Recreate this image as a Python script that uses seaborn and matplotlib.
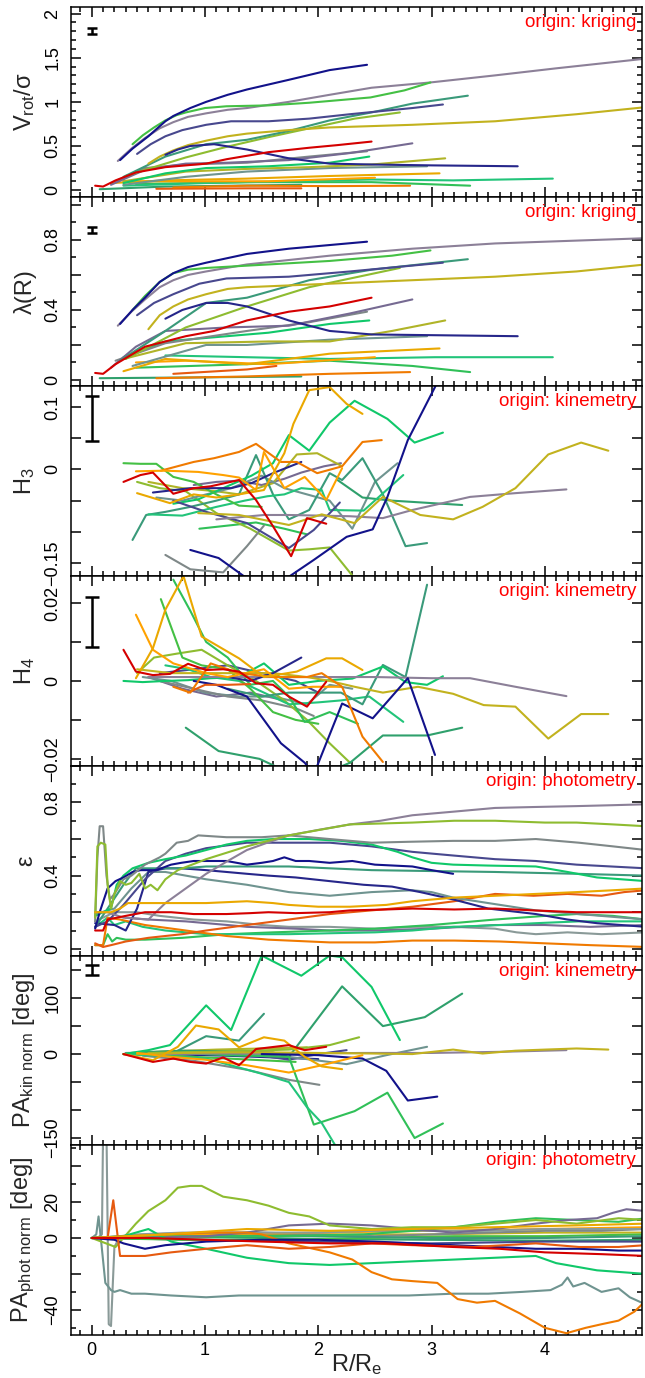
import numpy as np
import pandas as pd
import matplotlib
matplotlib.use("Agg")
import matplotlib.pyplot as plt
from matplotlib.ticker import MultipleLocator, FuncFormatter
import seaborn as sns

# ---------------------------------------------------------------- colours
GALAXY_COLORS = {
    "navy": "#12128a", "navy2": "#26268a", "indigo": "#48488e",
    "mauve": "#8c8098", "mauve2": "#766a92", "grey": "#7f8888",
    "ash": "#8a9a98", "greyteal": "#6f9490", "teal": "#3a9a7a",
    "seagreen": "#2fa06c", "green": "#44c044", "spring": "#30c058",
    "mint": "#10c86a", "mint2": "#22c47a", "leaf": "#8ebc30",
    "olive": "#c2b21e", "olive2": "#b0b428", "amber": "#eaa800",
    "orange": "#ffa200", "darkorange": "#f07a00", "burnt": "#e65a10",
    "red": "#d40000",
}

# ---------------------------------------------------------------- V_rot / sigma (kriging)
VROT_SIGMA = {
    "seagreen": ([0.07, 0.65, 1.85], [0.01, 0.04, 0.06]),
    "burnt": ([0.57, 1.37, 1.85], [0.015, 0.02, 0.02]),
    "darkorange": ([0.72, 1.37, 2.1, 2.81], [0.03, 0.05, 0.045, 0.05]),
    "spring": ([0.39, 1.37, 2.47, 3.34], [0.07, 0.09, 0.09, 0.05]),
    "mint2": ([0.28, 1.01, 1.74, 2.47, 3.19, 4.07], [0.05, 0.08, 0.10, 0.12, 0.11, 0.13]),
    "orange": ([0.28, 0.83, 1.56, 2.5], [0.10, 0.10, 0.10, 0.14]),
    "amber": ([0.17, 0.65, 1.37, 2.1, 3.07], [0.08, 0.11, 0.13, 0.16, 0.19]),
    "greyteal": ([0.28, 0.83, 1.37, 2.1, 2.96], [0.06, 0.15, 0.21, 0.25, 0.27]),
    "olive2": ([0.28, 0.83, 1.37, 1.92, 2.47, 3.12], [0.10, 0.21, 0.24, 0.26, 0.29, 0.36]),
    "mint": ([0.28, 0.65, 1.01, 1.56, 2.1, 2.45], [0.08, 0.19, 0.25, 0.27, 0.31, 0.38]),
    "grey": ([0.21, 0.47, 0.83, 1.37, 1.92, 2.43], [0.10, 0.25, 0.29, 0.31, 0.38, 0.44]),
    "mauve2": ([0.17, 0.47, 0.83, 1.19, 1.74, 2.28, 2.83], [0.06, 0.23, 0.30, 0.31, 0.34, 0.42, 0.53]),
    "leaf": ([0.3, 0.47, 0.83, 1.19, 1.56, 1.92, 2.32, 2.72], [0.16, 0.23, 0.37, 0.49, 0.60, 0.70, 0.81, 0.88]),
    "teal": ([0.28, 0.65, 1.01, 1.37, 1.74, 2.1, 2.47, 2.83, 3.32], [0.15, 0.38, 0.52, 0.57, 0.67, 0.79, 0.88, 0.98, 1.07]),
    "olive": ([0.5, 0.6, 0.72, 0.85, 1.01, 1.2, 1.37, 1.74, 2.1, 2.83, 3.56, 4.28, 4.89], [0.30, 0.38, 0.45, 0.51, 0.56, 0.61, 0.64, 0.68, 0.71, 0.74, 0.78, 0.86, 0.94]),
    "navy2": ([0.65, 0.76, 0.87, 1.08, 1.37, 1.74, 2.1, 2.47, 3.01, 3.76], [0.40, 0.46, 0.50, 0.52, 0.46, 0.36, 0.30, 0.29, 0.28, 0.27]),
    "indigo": ([0.4, 0.52, 0.65, 0.8, 1.01, 1.23, 1.56, 1.92, 2.28, 2.83, 3.1], [0.41, 0.52, 0.61, 0.68, 0.74, 0.78, 0.78, 0.81, 0.86, 0.93, 0.97]),
    "mauve": ([0.23, 0.35, 0.47, 0.6, 0.72, 0.85, 1.01, 1.2, 1.37, 1.74, 2.1, 2.47, 2.99, 3.56, 4.1, 4.89], [0.33, 0.47, 0.59, 0.70, 0.77, 0.83, 0.87, 0.91, 0.93, 1.0, 1.08, 1.16, 1.22, 1.30, 1.38, 1.49]),
    "green": ([0.36, 0.45, 0.55, 0.65, 0.75, 0.83, 1.0, 1.19, 1.56, 1.92, 2.46, 2.76, 2.99], [0.52, 0.62, 0.71, 0.79, 0.85, 0.88, 0.93, 0.95, 0.96, 0.99, 1.05, 1.13, 1.22]),
    "navy": ([0.25, 0.36, 0.5, 0.57, 0.65, 0.72, 0.87, 1.01, 1.2, 1.37, 1.74, 2.1, 2.43], [0.34, 0.47, 0.61, 0.69, 0.78, 0.84, 0.93, 1.0, 1.08, 1.14, 1.25, 1.36, 1.42]),
    "red": ([0.03, 0.1, 0.21, 0.39, 0.65, 1.01, 1.19, 1.56, 1.92, 2.17, 2.47], [0.05, 0.04, 0.11, 0.20, 0.26, 0.30, 0.35, 0.43, 0.48, 0.51, 0.55]),
}

# ---------------------------------------------------------------- lambda(R) (kriging)
LAMBDA_R = {
    "seagreen": ([0.07, 1.01, 1.85], [0.01, 0.015, 0.02]),
    "darkorange": ([0.57, 1.37, 2.1, 2.81], [0.01, 0.02, 0.035, 0.045]),
    "burnt": ([0.72, 1.37, 1.63], [0.035, 0.06, 0.08]),
    "spring": ([0.39, 1.37, 2.1, 2.83, 3.34], [0.07, 0.09, 0.11, 0.08, 0.045]),
    "mint2": ([0.65, 1.37, 2.1, 3.03, 4.07], [0.14, 0.13, 0.12, 0.13, 0.13]),
    "orange": ([0.39, 0.83, 1.56, 2.5], [0.10, 0.11, 0.09, 0.13]),
    "amber": ([0.28, 0.65, 1.37, 2.1, 3.07], [0.05, 0.12, 0.09, 0.15, 0.18]),
    "greyteal": ([0.36, 1.01, 1.37, 2.1, 2.96], [0.08, 0.20, 0.20, 0.23, 0.25]),
    "olive2": ([0.28, 0.83, 1.56, 2.1, 2.65, 3.12], [0.12, 0.21, 0.22, 0.22, 0.28, 0.34]),
    "mint": ([0.28, 0.65, 1.01, 1.56, 2.1, 2.45], [0.13, 0.22, 0.24, 0.27, 0.32, 0.34]),
    "grey": ([0.21, 0.65, 1.37, 1.92, 2.43], [0.11, 0.21, 0.28, 0.33, 0.39]),
    "mauve2": ([0.17, 0.39, 0.65, 1.19, 1.74, 2.28, 2.83], [0.07, 0.19, 0.28, 0.30, 0.31, 0.38, 0.46]),
    "leaf": ([0.3, 0.83, 1.37, 1.92, 2.72], [0.12, 0.30, 0.42, 0.53, 0.64]),
    "teal": ([0.25, 0.65, 1.01, 1.37, 1.92, 2.47, 3.32], [0.11, 0.28, 0.44, 0.47, 0.57, 0.63, 0.69]),
    "olive": ([0.5, 0.6, 0.72, 0.85, 1.01, 1.2, 1.37, 2.1, 2.83, 3.56, 4.28, 4.89], [0.29, 0.37, 0.42, 0.46, 0.49, 0.52, 0.53, 0.55, 0.57, 0.59, 0.62, 0.66]),
    "navy2": ([0.65, 0.8, 1.01, 1.2, 1.37, 1.74, 2.1, 2.47, 3.76], [0.35, 0.40, 0.44, 0.44, 0.42, 0.34, 0.28, 0.26, 0.25]),
    "indigo": ([0.4, 0.55, 0.72, 0.95, 1.19, 1.74, 2.28, 3.1], [0.37, 0.44, 0.49, 0.55, 0.58, 0.59, 0.62, 0.67]),
    "mauve": ([0.23, 0.35, 0.47, 0.6, 0.72, 0.85, 1.01, 1.37, 2.1, 2.83, 3.56, 4.89], [0.31, 0.39, 0.46, 0.53, 0.57, 0.60, 0.62, 0.66, 0.71, 0.75, 0.78, 0.81]),
    "green": ([0.36, 0.47, 0.6, 0.72, 0.85, 1.01, 1.56, 2.1, 2.65, 2.99], [0.40, 0.48, 0.56, 0.61, 0.63, 0.64, 0.66, 0.68, 0.71, 0.74]),
    "navy": ([0.25, 0.36, 0.47, 0.6, 0.72, 0.85, 1.01, 1.37, 1.74, 2.43], [0.32, 0.40, 0.47, 0.56, 0.61, 0.645, 0.67, 0.72, 0.75, 0.79]),
    "red": ([0.03, 0.1, 0.21, 0.47, 0.83, 1.08, 1.37, 1.74, 2.1, 2.47], [0.04, 0.035, 0.09, 0.19, 0.25, 0.28, 0.34, 0.39, 0.42, 0.47]),
}

# ---------------------------------------------------------------- H3 (kinemetry)
H3 = {
    "mauve2": ([0.9, 1.1, 1.3, 1.5, 1.7, 1.85, 2.05, 2.2], [-0.025, -0.020, -0.018, -0.025, -0.015, -0.005, 0.005, 0.010]),
    "spring": ([0.95, 1.2, 1.45, 1.7, 1.9], [-0.095, -0.090, -0.085, -0.095, -0.104]),
    "olive2": ([0.5, 0.8, 1.1, 1.3, 1.6, 1.81, 1.99, 2.2], [-0.020, -0.030, -0.035, -0.040, -0.022, 0.024, 0.026, 0.006]),
    "leaf": ([0.4, 0.6, 0.83, 1.1, 1.4, 1.74, 1.92, 2.1, 2.3], [-0.020, -0.030, -0.035, -0.070, -0.095, -0.130, -0.128, -0.125, -0.170]),
    "greyteal": ([0.57, 0.8, 1.01, 1.23, 1.5, 1.7, 1.9, 2.1, 2.3, 2.5, 2.7], [-0.045, -0.050, -0.040, -0.030, -0.010, -0.030, -0.040, -0.050, -0.095, -0.020, 0.010]),
    "grey": ([0.65, 0.87, 1.16, 1.37, 1.52], [-0.137, -0.160, -0.165, -0.123, -0.090]),
    "seagreen": ([2.17, 2.39, 2.65, 3.27], [-0.017, -0.045, -0.050, -0.057]),
    "teal": ([0.36, 0.48, 0.65, 0.87, 1.1, 1.3, 1.45, 1.6, 1.74, 1.92, 2.1, 2.21, 2.39, 2.57, 2.77, 2.96], [-0.113, -0.073, -0.068, -0.060, -0.050, -0.040, 0.023, -0.040, -0.080, -0.065, -0.006, -0.017, 0.018, -0.040, -0.123, -0.118]),
    "mint2": ([0.5, 0.8, 1.1, 1.35, 1.55, 1.7, 1.85, 2.03, 2.1, 2.4, 2.75], [-0.072, -0.074, -0.060, -0.050, -0.043, -0.040, -0.030, -0.033, -0.065, -0.066, -0.009]),
    "mint": ([0.72, 0.94, 1.16, 1.41, 1.6, 1.74, 1.92, 2.1, 2.32, 2.61, 2.85, 3.1], [-0.055, -0.048, -0.030, -0.010, 0.010, 0.055, 0.030, 0.075, 0.110, 0.081, 0.043, 0.059]),
    "green": ([0.28, 0.43, 0.57, 0.72, 0.9, 1.1, 1.3, 1.5], [0.010, 0.009, 0.009, -0.012, -0.020, -0.040, -0.058, -0.060]),
    "indigo": ([0.72, 1.01, 1.37, 1.74, 1.96, 2.19], [-0.050, -0.068, -0.086, -0.126, -0.097, -0.053]),
    "mauve": ([1.1, 1.52, 1.74, 2.28, 2.57, 2.83, 3.34, 3.74, 4.19], [-0.080, -0.073, -0.073, -0.075, -0.078, -0.065, -0.044, -0.038, -0.032]),
    "olive": ([0.94, 1.3, 1.74, 2.03, 2.32, 2.57, 2.9, 3.19, 3.45, 3.74, 4.03, 4.32, 4.56], [-0.070, -0.073, -0.089, -0.072, -0.086, -0.044, -0.073, -0.080, -0.060, -0.030, 0.024, 0.043, 0.030]),
    "navy2": ([0.54, 0.87, 1.23, 1.41, 1.6, 1.85], [-0.037, -0.030, -0.030, -0.022, -0.006, 0.012]),
    "navy": ([0.87, 1.12, 1.35, 1.6, 1.74, 1.96, 2.25, 2.48, 2.61, 2.79, 3.03, 3.12], [-0.129, -0.142, -0.172, -0.195, -0.172, -0.145, -0.108, -0.096, -0.044, 0.047, 0.132, 0.170]),
    "darkorange": ([0.61, 0.9, 1.08, 1.3, 1.45, 1.67, 1.81, 1.99, 2.21, 2.39, 2.56], [-0.002, 0.012, 0.018, 0.028, 0.041, 0.012, 0.012, -0.006, 0.005, 0.044, 0.047]),
    "orange": ([0.39, 0.65, 0.94, 1.16, 1.3, 1.45, 1.52, 1.7, 1.88, 2.07, 2.21], [-0.003, -0.002, -0.004, -0.009, -0.013, -0.033, 0.028, -0.030, -0.012, -0.049, 0.002]),
    "amber": ([0.4, 0.69, 0.9, 1.1, 1.3, 1.52, 1.7, 1.78, 1.92, 2.1, 2.25, 2.39], [-0.038, -0.054, -0.040, -0.045, -0.040, -0.033, 0.026, 0.073, 0.127, 0.132, 0.105, 0.089]),
    "red": ([0.28, 0.43, 0.54, 0.72, 0.9, 1.05, 1.3, 1.45, 1.6, 1.76, 1.9, 2.07], [-0.020, -0.009, -0.005, -0.039, -0.030, -0.027, -0.017, -0.049, -0.091, -0.139, -0.078, -0.087]),
}

# ---------------------------------------------------------------- H4 (kinemetry)
H4 = {
    "mauve2": ([0.5, 0.8, 1.1, 1.4, 1.7], [0.001, -0.002, -0.004, -0.003, -0.005]),
    "indigo": ([0.6, 0.9, 1.2, 1.5, 1.8, 2.0], [0.002, 0.003, 0.004, 0.002, 0.0, -0.003]),
    "greyteal": ([0.45, 0.7, 1.0, 1.3, 1.6, 1.9, 2.1, 2.3], [0.001, 0.0, -0.003, -0.004, -0.004, -0.006, -0.001, -0.002]),
    "grey": ([0.6, 0.9, 1.2, 1.5, 1.8, 1.96], [0.0, -0.002, -0.004, -0.005, -0.007, -0.009]),
    "leaf": ([0.4, 0.55, 0.75, 0.97, 1.2, 1.45, 1.7, 1.9, 2.1, 2.28], [0.002, 0.006, 0.007, 0.008, 0.004, 0.0, -0.005, -0.010, -0.016, -0.021]),
    "mint2": ([0.65, 0.85, 1.05, 1.3, 1.52, 1.74, 2.0, 2.2, 2.45, 2.75], [0.004, 0.003, 0.001, 0.0, -0.003, -0.006, -0.0055, -0.005, -0.004, -0.0105]),
    "seagreen": ([0.83, 1.12, 1.48, 1.7, 1.85, 2.03, 2.28, 2.57, 2.96, 3.27], [-0.012, -0.018, -0.020, -0.023, -0.025, -0.024, -0.021, -0.014, -0.014, -0.012]),
    "teal": ([1.2, 1.5, 1.74, 1.96, 2.2, 2.39, 2.57, 2.77, 2.96], [-0.002, -0.004, -0.003, -0.003, -0.003, -0.006, 0.0041, 0.001, 0.0247]),
    "mint": ([0.28, 0.45, 0.65, 0.85, 1.05, 1.3, 1.52, 1.74, 2.0, 2.3, 2.57, 2.77, 2.96, 3.1], [0.0, -0.0003, 0.0, 0.0002, 0.0007, 0.001, 0.0045, -0.001, 0.0, 0.0006, 0.0037, -0.0003, -0.001, 0.0012]),
    "green": ([0.61, 0.8, 0.97, 1.2, 1.4, 1.6, 1.8, 2.0], [0.021, 0.006, 0.004, 0.003, -0.002, -0.008, -0.010, -0.011]),
    "spring": ([0.72, 0.87, 1.01, 1.2, 1.4, 1.6, 1.74, 1.88, 2.1, 2.35], [0.026, 0.018, 0.010, 0.006, -0.001, 0.0, -0.004, -0.0105, -0.008, -0.011]),
    "mauve": ([0.5, 1.0, 1.5, 2.0, 2.5, 3.0, 3.34, 3.74, 4.19], [0.001, 0.001, 0.001, 0.001, 0.001, 0.0007, 0.0007, -0.0015, -0.0039]),
    "olive": ([0.4, 0.7, 1.0, 1.3, 1.6, 1.9, 2.1, 2.32, 2.57, 2.88, 3.19, 3.46, 3.74, 4.03, 4.32, 4.56], [0.003, 0.002, 0.002, 0.002, 0.002, 0.001, 0.0, -0.0015, -0.003, -0.0015, -0.0033, -0.0062, -0.0066, -0.0148, -0.0085, -0.0085]),
    "navy2": ([1.2, 1.4, 1.6, 1.85], [0.001, 0.0, 0.002, 0.006]),
    "navy": ([0.9, 1.1, 1.37, 1.67, 1.88, 1.96, 2.21, 2.48, 2.79, 3.03], [0.0, -0.001, -0.004, -0.016, -0.021, -0.024, -0.0058, -0.0096, 0.0007, -0.019]),
    "burnt": ([0.85, 1.0, 1.2, 1.4], [-0.003, -0.001, -0.001, -0.0008]),
    "orange": ([0.39, 0.54, 0.72, 1.01, 1.2, 1.52, 1.74, 1.95, 2.2], [0.017, 0.008, 0.0045, 0.002, 0.001, 0.003, -0.002, -0.0015, -0.0015]),
    "darkorange": ([0.72, 0.87, 1.05, 1.3, 1.6, 1.9, 2.03, 2.21, 2.39, 2.57], [-0.0015, -0.003, 0.0045, 0.002, 0.001, 0.001, 0.002, -0.0015, -0.0143, -0.0208]),
    "amber": ([0.39, 0.54, 0.65, 0.81, 0.97, 1.3, 1.52, 1.81, 2.07, 2.21, 2.39], [0.0007, 0.0084, 0.0183, 0.0269, 0.0114, 0.0058, 0.0010, 0.0024, 0.0058, 0.0058, 0.0028]),
    "red": ([0.28, 0.39, 0.54, 0.69, 0.85, 1.01, 1.16, 1.3, 1.45, 1.6, 1.74, 1.9, 2.07], [0.008, 0.0024, 0.0015, 0.0018, 0.0044, 0.0028, 0.003, 0.0024, -0.0006, -0.001, -0.004, -0.0066, -0.0002]),
}

# ---------------------------------------------------------------- ellipticity (photometry)
ELLIPTICITY = {
    "ash": ([0.03, 0.2, 0.4, 0.6, 0.9, 1.19, 1.5, 1.74, 2.1, 2.5, 2.83, 3.2, 3.56, 3.75, 3.92, 4.2, 4.5, 4.89], [0.15, 0.20, 0.20, 0.18, 0.16, 0.15, 0.13, 0.12, 0.12, 0.11, 0.12, 0.12, 0.11, 0.09, 0.08, 0.09, 0.08, 0.09]),
    "mauve2": ([0.3, 0.5, 0.83, 1.2, 1.37, 1.8, 2.1, 2.5, 3.0, 3.56, 4.0, 4.4, 4.89], [0.17, 0.16, 0.15, 0.13, 0.12, 0.11, 0.10, 0.10, 0.11, 0.13, 0.13, 0.12, 0.13]),
    "spring": ([0.03, 0.1, 0.14, 0.18, 0.22, 0.3, 0.47, 0.8, 1.2, 1.6, 2.1, 2.5, 3.0, 3.56, 4.0, 4.28, 4.6, 4.89], [0.02, 0.02, 0.08, 0.04, 0.06, 0.05, 0.05, 0.06, 0.08, 0.09, 0.10, 0.11, 0.13, 0.16, 0.18, 0.19, 0.18, 0.16]),
    "mint2": ([0.03, 0.14, 0.2, 0.3, 0.45, 0.65, 1.01, 1.4, 1.74, 2.1, 2.5, 2.83, 3.19, 3.6, 3.92, 4.3, 4.6, 4.89], [0.12, 0.17, 0.13, 0.15, 0.12, 0.10, 0.08, 0.08, 0.08, 0.085, 0.09, 0.10, 0.12, 0.13, 0.14, 0.15, 0.15, 0.15]),
    "darkorange": ([0.03, 0.1, 0.14, 0.25, 0.47, 0.83, 1.19, 1.56, 2.1, 2.5, 2.83, 3.2, 3.6, 4.0, 4.4, 4.89], [0.02, 0.02, 0.17, 0.16, 0.13, 0.10, 0.07, 0.05, 0.035, 0.035, 0.045, 0.045, 0.04, 0.03, 0.02, 0.01]),
    "burnt": ([0.03, 0.1, 0.17, 0.3, 0.5, 0.8, 1.01, 1.37, 1.74, 2.1, 2.47, 2.83, 3.2, 3.56, 3.9, 4.2, 4.5, 4.7, 4.89], [0.03, 0.01, 0.02, 0.04, 0.06, 0.08, 0.10, 0.13, 0.16, 0.19, 0.21, 0.23, 0.26, 0.30, 0.29, 0.30, 0.29, 0.31, 0.32]),
    "greyteal": ([0.03, 0.2, 0.35, 0.5, 0.65, 0.83, 1.01, 1.37, 1.74, 2.1, 2.47, 2.83, 3.0, 3.19, 3.5, 3.92, 4.3, 4.89], [0.19, 0.22, 0.33, 0.42, 0.42, 0.40, 0.38, 0.35, 0.31, 0.29, 0.31, 0.32, 0.31, 0.28, 0.25, 0.21, 0.19, 0.16]),
    "navy2": ([0.03, 0.2, 0.3, 0.4, 0.5, 0.65, 0.79, 1.01, 1.37, 1.56, 1.8, 2.1, 2.4, 2.65, 2.9, 3.19, 3.5, 3.92, 4.2, 4.46, 4.89], [0.14, 0.13, 0.10, 0.22, 0.42, 0.44, 0.44, 0.43, 0.41, 0.40, 0.39, 0.37, 0.35, 0.34, 0.31, 0.27, 0.22, 0.19, 0.16, 0.14, 0.12]),
    "teal": ([0.03, 0.14, 0.28, 0.39, 0.6, 0.8, 1.01, 1.37, 1.74, 2.1, 2.47, 3.0, 3.56, 4.28, 4.89], [0.12, 0.22, 0.35, 0.44, 0.44, 0.44, 0.45, 0.45, 0.45, 0.44, 0.43, 0.425, 0.42, 0.41, 0.40]),
    "indigo": ([0.03, 0.14, 0.28, 0.47, 0.65, 0.83, 1.01, 1.37, 1.74, 2.1, 2.47, 2.83, 3.19, 3.56, 3.92, 4.28, 4.89], [0.12, 0.15, 0.24, 0.38, 0.48, 0.52, 0.55, 0.58, 0.58, 0.58, 0.56, 0.53, 0.51, 0.49, 0.48, 0.46, 0.44]),
    "mint": ([0.03, 0.1, 0.17, 0.22, 0.28, 0.36, 0.5, 0.65, 0.83, 1.01, 1.19, 1.37, 1.6, 1.92, 2.2, 2.47, 2.7, 2.83, 3.0, 3.19, 3.5, 3.92, 4.2, 4.46, 4.89], [0.18, 0.20, 0.22, 0.35, 0.40, 0.44, 0.47, 0.49, 0.51, 0.54, 0.57, 0.59, 0.60, 0.60, 0.59, 0.57, 0.53, 0.50, 0.47, 0.46, 0.455, 0.45, 0.42, 0.39, 0.37]),
    "navy": ([0.03, 0.07, 0.14, 0.21, 0.28, 0.36, 0.43, 0.57, 0.7, 0.79, 0.9, 1.01, 1.19, 1.37, 1.5, 1.6, 1.7, 1.8, 1.92, 2.1, 2.3, 2.5, 2.83, 3.0, 3.19], [0.11, 0.20, 0.33, 0.37, 0.39, 0.42, 0.43, 0.43, 0.46, 0.47, 0.48, 0.48, 0.48, 0.46, 0.47, 0.48, 0.50, 0.48, 0.48, 0.47, 0.48, 0.46, 0.45, 0.43, 0.41]),
    "grey": ([0.03, 0.05, 0.07, 0.1, 0.13, 0.16, 0.2, 0.28, 0.35, 0.47, 0.6, 0.65, 0.75, 0.85, 0.94, 1.19, 1.5, 1.74, 2.1, 2.47, 2.8, 3.19, 3.56, 3.92, 4.3, 4.6, 4.89], [0.15, 0.50, 0.67, 0.67, 0.40, 0.27, 0.30, 0.38, 0.40, 0.46, 0.50, 0.52, 0.58, 0.59, 0.62, 0.61, 0.61, 0.62, 0.60, 0.58, 0.585, 0.59, 0.59, 0.60, 0.58, 0.56, 0.54]),
    "mauve": ([0.03, 0.14, 0.28, 0.5, 0.65, 0.83, 1.01, 1.2, 1.37, 1.55, 1.74, 2.0, 2.28, 2.55, 2.83, 3.2, 3.56, 3.9, 4.28, 4.6, 4.89], [0.20, 0.20, 0.17, 0.16, 0.25, 0.33, 0.41, 0.48, 0.54, 0.58, 0.62, 0.65, 0.68, 0.70, 0.73, 0.75, 0.77, 0.775, 0.78, 0.785, 0.79]),
    "leaf": ([0.03, 0.05, 0.08, 0.12, 0.14, 0.17, 0.2, 0.25, 0.3, 0.35, 0.42, 0.47, 0.52, 0.58, 0.65, 0.76, 1.01, 1.37, 1.74, 2.28, 2.83, 3.2, 3.56, 4.0, 4.28, 4.6, 4.89], [0.17, 0.56, 0.58, 0.57, 0.35, 0.22, 0.30, 0.37, 0.35, 0.36, 0.41, 0.33, 0.35, 0.32, 0.38, 0.43, 0.49, 0.56, 0.62, 0.68, 0.69, 0.70, 0.70, 0.69, 0.69, 0.68, 0.67]),
    "amber": ([0.03, 0.17, 0.25, 0.32, 0.6, 1.01, 1.37, 1.6, 1.74, 2.0, 2.28, 2.6, 2.83, 3.2, 3.56, 3.92, 4.28, 4.6, 4.89], [0.20, 0.20, 0.22, 0.25, 0.25, 0.25, 0.26, 0.25, 0.24, 0.23, 0.23, 0.24, 0.26, 0.28, 0.29, 0.30, 0.31, 0.32, 0.33]),
    "red": ([0.03, 0.1, 0.14, 0.3, 0.47, 0.7, 0.9, 1.19, 1.4, 1.56, 1.8, 2.1, 2.28, 2.6, 2.83, 3.2, 3.56, 3.9, 4.28, 4.6, 4.89], [0.10, 0.10, 0.16, 0.18, 0.20, 0.20, 0.19, 0.19, 0.195, 0.20, 0.195, 0.20, 0.21, 0.215, 0.22, 0.215, 0.22, 0.21, 0.20, 0.20, 0.20]),
}

# ---------------------------------------------------------------- kinematic PA (kinemetry)
PA_KIN = {
    "navy2": ([0.4, 0.8, 1.2, 1.6, 2.0], [0, -1, -3, -6, -9]),
    "olive2": ([0.35, 0.7, 1.1, 1.5, 1.9], [2, 5, 8, 10, 12]),
    "green": ([0.28, 0.6, 1.0, 1.4, 1.8], [0, -2, -6, -10, -14]),
    "indigo": ([1.0, 1.5, 1.74, 2.0, 2.25], [0, -3, -10, 0, 7]),
    "grey": ([0.45, 0.9, 1.37, 1.74, 2.01], [-3, -12, -28, -46, -55]),
    "greyteal": ([0.3, 0.8, 1.3, 1.74, 2.25, 2.6, 2.96], [2, 3, 1, -5, -18, -2, 13]),
    "teal": ([0.28, 0.5, 0.72, 1.01, 1.3, 1.52], [0, 4, 2, 32, 24, 72]),
    "seagreen": ([0.4, 0.8, 1.2, 1.6, 1.74, 2.21, 2.57, 2.94, 3.27], [3, 6, 5, 3, -5, 121, 50, 66, 108]),
    "spring": ([0.3, 0.8, 1.2, 1.6, 1.74, 1.96, 2.32, 2.61, 2.85, 3.1], [0, 2, -2, -4, -5, -126, -102, -69, -150, -124]),
    "mint2": ([0.28, 0.6, 1.01, 1.48, 1.74, 1.9, 2.03, 2.17], [0, -3, -8, -34, -50, -95, -123, -170]),
    "mint": ([0.28, 0.5, 0.69, 1.01, 1.23, 1.5, 1.85, 2.1, 2.21, 2.47, 2.72], [0, 7, 16, 87, 43, 176, 140, 176, 173, 120, 25]),
    "leaf": ([0.5, 1.0, 1.4, 1.74, 2.1, 2.36], [2, 4, 6, 8, 16, 30]),
    "mauve": ([0.6, 1.2, 1.8, 2.4, 3.0, 3.6, 4.19], [0, 1, 1, 2, 2, 4, 7]),
    "olive": ([0.4, 0.8, 1.2, 1.6, 2.0, 2.47, 2.83, 3.19, 3.45, 3.74, 4.0, 4.28, 4.56], [0, 2, 3, 3, 2, 1, 0, 8, 1, 6, 8, 10, 8]),
    "navy": ([1.5, 2.0, 2.39, 2.6, 2.79, 3.05], [0, -2, -8, -30, -83, -76]),
    "orange": ([0.4, 0.7, 1.0, 1.37, 1.74, 2.03, 2.39], [2, -5, -10, -20, -33, -20, -2]),
    "amber": ([0.28, 0.54, 0.76, 0.92, 1.12, 1.3, 1.52, 1.7, 1.88, 2.03, 2.21], [0, -11, 13, 51, 44, 12, 30, 24, -5, -22, -27]),
    "red": ([0.28, 0.54, 0.72, 0.87, 1.01, 1.16, 1.3, 1.45, 1.74, 1.88, 2.07], [0, -14, -8, -14, -17, -6, -20, 9, 16, 7, 13]),
}

# ---------------------------------------------------------------- photometric PA (photometry)
PA_PHOT = {
    "seagreen": ([0, 1, 2, 3, 4, 4.89], [0, 0.5, -0.5, -1, -1.5, -1]),
    "indigo": ([0, 1, 2, 3, 4, 4.89], [0, -1, -2, -3, -2, -2]),
    "olive": ([0, 1, 2, 3, 4, 4.89], [0, 1, 2, 2, 3, 3]),
    "green": ([0, 0.8, 1.6, 2.4, 3.2, 4.0, 4.89], [0, -1, -1, 0, 1, 1, 2]),
    "grey": ([0, 0.5, 1.0, 1.5, 2.0, 2.5, 3.0, 3.5, 4.0, 4.5, 4.89], [0, 2, 3, 3, 2, 1, 2, 3, 4, 4, 5]),
    "teal": ([0, 0.5, 1.0, 2.0, 3.0, 4.0, 4.89], [0, 1, 2, 1, 0, 0, 1]),
    "orange": ([0, 1, 2, 3, 4, 4.89], [0, 2, 3, 4, 5, 6]),
    "ash": ([0.0, 0.05, 0.09, 0.1, 0.13, 0.15, 0.17, 0.2, 0.25, 0.4, 0.8, 1.2, 1.6, 2.0, 2.5, 3.0, 3.5, 4.0, 4.5, 4.89], [0, 0, 2, 60, 60, -48, -49, -5, 1, 2, 3, 3, 3, 3, 4, 4, 4, 5, 5, 5]),
    "greyteal": ([0.0, 0.04, 0.06, 0.08, 0.12, 0.17, 0.2, 0.25, 0.35, 0.47, 0.7, 1.01, 1.3, 1.6, 2.0, 2.4, 2.8, 3.19, 3.5, 3.8, 4.05, 4.15, 4.2, 4.25, 4.35, 4.5, 4.65, 4.75, 4.89], [0, 2, 12, 0, -25, -29, -30, -29, -31, -31, -32, -33, -32, -32, -32, -32, -32, -31, -31, -30, -29, -26, -22, -27, -25, -30, -28, -33, -37]),
    "spring": ([0, 0.8, 1.6, 2.4, 2.83, 3.2, 3.56, 3.92, 4.28, 4.65, 4.89], [0, 1, 1, 2, 4, 6, 9, 11, 10, 9, 11]),
    "mauve2": ([0, 0.4, 1.01, 1.37, 1.74, 2.1, 2.47, 2.83, 3.19, 3.56, 3.92, 4.2, 4.46, 4.6, 4.72, 4.89], [0, 0, 1, 3, 7, 8, 7, 5, 3, 5, 8, 10, 11, 14, 16, 15]),
    "leaf": ([0, 0.21, 0.39, 0.5, 0.65, 0.76, 0.87, 0.97, 1.16, 1.37, 1.56, 1.74, 1.92, 2.1, 2.47, 2.83, 3.2, 3.56, 3.92, 4.28, 4.65, 4.89], [0, -5, 8, 15, 21, 28, 29, 29, 23, 21, 18, 14, 12, 7, 5, 6, 6, 8, 10, 8, 11, 10]),
    "mint": ([0, 0.28, 0.39, 0.5, 0.7, 1.01, 1.37, 1.74, 2.1, 2.47, 2.83, 3.2, 3.56, 3.92, 4.1, 4.46, 4.89], [0, 1, 3, 5, -2, -6, -11, -14, -15, -14, -13, -12, -11, -10, -14, -18, -20]),
    "darkorange": ([0, 0.65, 1.01, 1.37, 1.5, 1.74, 2.1, 2.3, 2.47, 2.65, 2.83, 3.05, 3.23, 3.4, 3.56, 3.78, 4.0, 4.19, 4.36, 4.5, 4.65, 4.79, 4.89], [0, 2, 3, 3, 2, -3, -8, -12, -19, -23, -24, -25, -34, -36, -35, -42, -50, -53, -50, -48, -46, -41, -35]),
    "navy": ([0, 0.2, 0.28, 0.47, 0.65, 1.01, 1.5, 2.0, 2.5, 3.19, 3.92, 4.3, 4.65, 4.89], [0, -1, -3, -6, -4, -2, -1, -1, -2, -4, -6, -6, -7, -7]),
    "burnt": ([0, 0.14, 0.19, 0.25, 0.47, 0.7, 1.01, 1.37, 1.74, 2.1, 2.47, 2.83, 3.37, 3.92, 4.3, 4.65, 4.89], [0, 0, 21, -10, -10, -8, -6, -4, -6, -5, -3, -4, -5, -3, -5, -5, -4]),
    "amber": ([0, 0.65, 1.37, 2.1, 2.83, 3.56, 4.28, 4.89], [0, 2, 5, 4, 5, 6, 7, 8]),
    "red": ([0, 0.5, 1.01, 1.5, 2.1, 2.6, 3.19, 3.6, 4.0, 4.5, 4.89], [0, 0, -1, -2, -3, -3, -5, -6, -8, -9, -10]),
}

# ---------------------------------------------------------------- typical uncertainties
ERR_CENTER = [1.80, 0.857, 0.081, 0.0151, None, 151.0, None]
ERR_HALF = [0.035, 0.019, 0.036, 0.0064, None, 9.0, None]

PANEL_DATA = [VROT_SIGMA, LAMBDA_R, H3, H4, ELLIPTICITY, PA_KIN, PA_PHOT]
YLABELS = [r"$\mathregular{V_{rot}}$/σ", "λ(R)", r"$\mathregular{H_3}$", r"$\mathregular{H_4}$",
           "ε", r"$\mathregular{PA_{kin\ norm}}$ [deg]", r"$\mathregular{PA_{phot\ norm}}$ [deg]"]
ORIGINS = ["origin: kriging", "origin: kriging", "origin: kinemetry", "origin: kinemetry",
           "origin: photometry", "origin: kinemetry", "origin: photometry"]
YLIMS = [(-0.075, 2.075), (-0.037, 1.047), (-0.171, 0.133), (-0.0218, 0.0269),
         (-0.037, 1.0), (-163, 176), (-54, 51.6)]
YMAJOR = [0.5, 0.2, 0.05, 0.01, 0.2, 50, 20]
YMINOR = [0.1, 0.1, None, None, 0.1, None, 10]
YLABELLED = [[0, 0.5, 1, 1.5, 2], [0, 0.4, 0.8], [-0.15, 0, 0.1], [-0.02, 0, 0.02],
             [0, 0.4, 0.8], [-150, 0, 100], [-40, 0, 20]]
CAPSIZES = [3.5, 3.5, 5, 5, None, 5, None]

# ---------------------------------------------------------------- style
sns.set_theme(style="ticks")
plt.rcParams["font.family"] = ["Liberation Sans", "DejaVu Sans"]
plt.rcParams.update({
    "mathtext.fontset": "custom",
    "mathtext.rm": "Liberation Sans",
    "mathtext.it": "Liberation Sans:italic",
    "mathtext.bf": "Liberation Sans:bold",
    "mathtext.default": "regular",
    "axes.linewidth": 1.1,
    "axes.edgecolor": "black",
    "xtick.color": "black",
    "ytick.color": "black",
})

fig, axes = plt.subplots(7, 1, sharex=True, figsize=(6.45, 13.78), dpi=100)
fig.subplots_adjust(left=0.1101, right=0.9953, top=0.99492, bottom=0.0312, hspace=0)


def make_formatter(shown):
    def fmt(v, pos):
        for s in shown:
            if abs(v - s) < 1e-9:
                return ("%g" % s).replace("-", "\u2212")
        return ""
    return FuncFormatter(fmt)


for i, ax in enumerate(axes):
    data = PANEL_DATA[i]
    rows = [(r, v, name) for name, (rs, vs) in data.items() for r, v in zip(rs, vs)]
    df = pd.DataFrame(rows, columns=["radius", "value", "galaxy"])
    sns.lineplot(data=df, x="radius", y="value", hue="galaxy", hue_order=list(data),
                 palette=GALAXY_COLORS, estimator=None, sort=False, legend=False,
                 linewidth=1.5, ax=ax)

    if ERR_CENTER[i] is not None:
        ax.errorbar([0.0], [ERR_CENTER[i]], yerr=[ERR_HALF[i]], fmt="none",
                    ecolor="black", elinewidth=1.8, capsize=CAPSIZES[i], capthick=1.8)

    ax.set_xlim(-0.183, 4.857)
    ax.set_ylim(*YLIMS[i])
    ax.xaxis.set_major_locator(MultipleLocator(1))
    ax.xaxis.set_minor_locator(MultipleLocator(0.1))
    ax.yaxis.set_major_locator(MultipleLocator(YMAJOR[i]))
    if YMINOR[i] is not None:
        ax.yaxis.set_minor_locator(MultipleLocator(YMINOR[i]))
    ax.yaxis.set_major_formatter(make_formatter(YLABELLED[i]))

    ax.tick_params(which="both", direction="in", top=True, right=True, width=1.1)
    ax.tick_params(which="major", length=7)
    ax.tick_params(which="minor", length=3.5)
    ax.tick_params(axis="y", labelsize=13, labelrotation=90, pad=7)
    ax.tick_params(axis="x", labelsize=13, pad=5)
    for lbl in ax.get_yticklabels():
        lbl.set_va("center")

    ax.set_ylabel(YLABELS[i], fontsize=17)
    ax.yaxis.set_label_coords(-0.06, 0.5)
    ax.set_xlabel("")
    ax.text(1 - 6 / 571, 1 - 20 / 189.7, ORIGINS[i], color="#ff0000", fontsize=13.5,
            ha="right", va="baseline", transform=ax.transAxes)
    for s in ax.spines.values():
        s.set_visible(True)

axes[-1].set_xlabel(r"$\mathregular{R/R_e}$", fontsize=17)
axes[-1].xaxis.set_label_coords(0.5, -0.092)

fig.savefig("out.png", dpi=100)
